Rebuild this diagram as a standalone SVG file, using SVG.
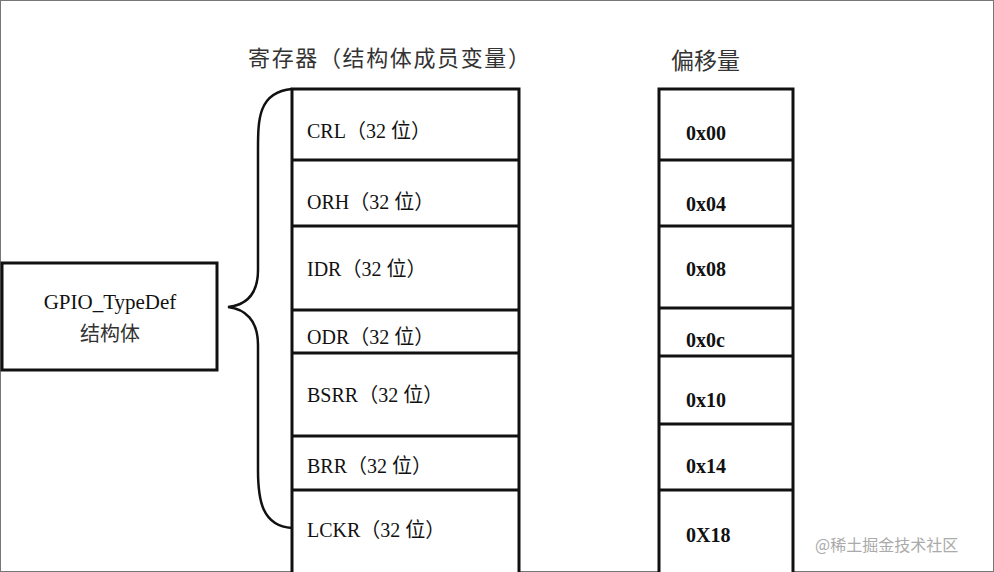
<svg xmlns="http://www.w3.org/2000/svg" width="994" height="572" viewBox="0 0 994 572">
<style>
.t{font-family:"Liberation Serif","Noto Sans CJK SC",serif;font-size:20px;fill:#111}
.h{font-family:"Noto Sans CJK SC",sans-serif;font-size:22px;fill:#333}
.b{font-family:"Liberation Serif",serif;font-size:20px;font-weight:bold;fill:#111}
.box{fill:#fff;stroke:#111;stroke-width:3}
.ln{stroke:#111;stroke-width:3}
</style>
<rect x="0.5" y="0.5" width="993" height="571" fill="#fff" stroke="#777"/>
<text class="h" x="248" y="66" textLength="282">寄存器（结构体成员变量）</text>
<text class="h" x="671" y="69" style="font-size:23px">偏移量</text>
<g id="struct"><rect class="box" x="2" y="263" width="215" height="107"/>
<text class="t" x="110" y="309" text-anchor="middle" style="font-size:21px">GPIO_TypeDef</text>
<text class="h" x="110" y="341" text-anchor="middle" style="font-size:20px">结构体</text></g>
<g id="connectors"><path d="M292 89 C258 92 258 120 258 150 L258 270 C258 295 245 305 228 307 C245 309 258 320 258 345 L258 470 C258 500 262 526 292 528" fill="none" stroke="#111" stroke-width="2.5"/></g>
<g id="registers">
<path class="box" d="M292 572 V89 H519 V572"/>
<path class="ln" d="M292 160H519M292 226H519M292 310H519M292 353H519M292 436H519M292 490H519"/>
<text class="t" x="307" y="138">CRL（32 位）</text>
<text class="t" x="307" y="209">ORH（32 位）</text>
<text class="t" x="307" y="276">IDR（32 位）</text>
<text class="t" x="307" y="344">ODR（32 位）</text>
<text class="t" x="307" y="402">BSRR（32 位）</text>
<text class="t" x="307" y="473">BRR（32 位）</text>
<text class="t" x="307" y="537">LCKR（32 位）</text>
</g>
<g id="offsets">
<path class="box" d="M659 572 V89 H793 V572"/>
<path class="ln" d="M659 160H793M659 226H793M659 308H793M659 356H793M659 424H793M659 490H793"/>
<text class="b" x="686" y="140">0x00</text>
<text class="b" x="686" y="211">0x04</text>
<text class="b" x="686" y="276">0x08</text>
<text class="b" x="686" y="347">0x0c</text>
<text class="b" x="686" y="407">0x10</text>
<text class="b" x="686" y="473">0x14</text>
<text class="b" x="686" y="542">0X18</text>
</g>
<text x="815" y="551" style="font-family:'Noto Sans CJK SC',sans-serif;font-size:16px;fill:#aaa">@稀土掘金技术社区</text>
</svg>
